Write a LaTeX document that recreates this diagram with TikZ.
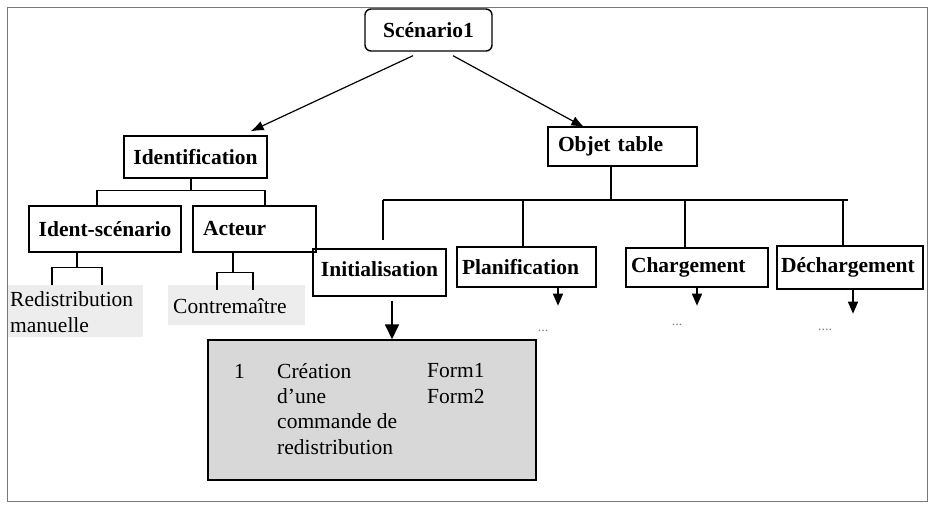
\documentclass[tikz,border=0pt]{standalone}
\usepackage{fontspec}
\setmainfont{Liberation Serif}
\usetikzlibrary{arrows.meta,calc}
\definecolor{formgray}{RGB}{216,216,216}
\definecolor{notegray}{RGB}{237,237,237}
\definecolor{framegray}{RGB}{120,120,120}
\begin{document}
\begin{tikzpicture}[x=1pt,y=-1pt,
  every node/.style={font=\fontsize{21.5}{25.3}\selectfont},
  box/.style={draw, line width=1.4pt, font=\fontsize{21.5}{25.3}\selectfont\bfseries, inner ysep=0pt},
  tree/.style={line width=1.4pt},
  bigarrow/.style={line width=1.2pt, -{Latex[length=13pt,width=10pt]}},
  downarrow/.style={line width=1.4pt, -{Triangle[length=12pt,width=10pt]}},
  initarrow/.style={line width=1.6pt, -{Triangle[length=15pt,width=14pt]}},
  dots/.style={font=\fontsize{14}{15}\selectfont, text=gray}]

\useasboundingbox (0,0) rectangle (931,508);
\draw[framegray, line width=0.8pt] (7,7) rectangle (927,501);

% light backgrounds behind the leaf labels
\fill[notegray] (8,285) rectangle (143,337);
\fill[notegray] (168,285) rectangle (305,325);

% boxes
\node[box, rounded corners=6pt, minimum width=127pt, minimum height=42pt] (scen) at (428.5,30) {Scénario1};
\node[box, minimum width=143pt, minimum height=42pt] (ident) at (195.5,157) {Identification};
\node[box, text width=129pt, inner xsep=10pt, minimum height=39pt, align=left] (obj) at (622.5,146.5) {Objet table};
\node[box, minimum width=152pt, minimum height=46pt] (idsc) at (105,229) {Ident-scénario};
\node[box, text width=103pt, inner xsep=10pt, minimum height=46pt, align=left] (act) at (254.5,229) {Acteur};
\node[box, minimum width=133pt, minimum height=47pt, text depth=6pt] (init) at (379.5,272.5) {Initialisation};
\node[box, text width=129pt, inner xsep=5pt, minimum height=40pt, align=left] (plan) at (526.5,267) {Planification};
\node[box, text width=132pt, inner xsep=5pt, minimum height=39pt, align=left] (charg) at (697,267.5) {Chargement};
\node[box, text width=138pt, inner xsep=4pt, minimum height=43pt, align=left] (dech) at (850,267.5) {Déchargement};

% leaf labels (base anchor sits on the last line)
\node[anchor=base west, align=left, inner sep=0pt] (redist) at (10,332) {Redistribution\\manuelle};
\node[anchor=base west, inner sep=0pt] (contre) at (173,313) {Contremaître};

% form box
\node[draw, line width=1.4pt, fill=formgray, minimum width=328pt, minimum height=140pt, inner sep=0pt] (form) at (372,410) {};
\node[anchor=base west, inner sep=0pt] (num) at (234,378) {1};
\node[anchor=base west, align=left, inner sep=0pt] (desc) at (277,454) {Création\\d'une\\commande de\\redistribution};
\node[anchor=base west, align=left, inner sep=0pt] (frm) at (427,403) {Form1\\Form2};

% continuation marks
\node[dots] (pdots) at (543,331) {...};
\node[dots] (cdots) at (677,325) {...};
\node[dots] (ddots) at (825,330) {....};

% top-level arrows
\draw[bigarrow] ($(scen.south)+(-15.5,4)$) -- ($(ident.north east)+(-17,-4)$);
\draw[bigarrow] ($(scen.south)+(24.5,4)$) -- ($(obj.north west)+(37,1)$);

% Identification subtree
\draw[tree] ($(ident.south)+(-4.5,0)$) -- ++(0,12) coordinate (jid);
\coordinate (il) at ($(idsc.north)+(-8,0)$);
\coordinate (ir) at ($(act.north)+(10.5,0)$);
\draw[tree] (il) |- (jid) -| (ir);

% leaf brackets
\draw[tree] ($(idsc.south)+(-28,0)$) -- ++(0,15) coordinate (jr);
\coordinate (rl) at (52,285);
\coordinate (rr) at (102,285);
\draw[tree] (rl) |- (jr) -| (rr);

\draw[tree] ($(act.south)+(-21.5,0)$) -- ++(0,20) coordinate (ja);
\coordinate (al) at (217,290);
\coordinate (ar) at (253,290);
\draw[tree] (al) |- (ja) -| (ar);

% Objet table subtree
\draw[tree] ($(obj.south)+(-11.5,0)$) -- ++(0,34) coordinate (jo);
\coordinate (ol) at (383,200);
\coordinate (or) at (848,200);
\draw[tree] (ol) -- (or);
\draw[tree] (ol) -- ++(0,40);
\coordinate (pt) at ($(plan.north)+(-3.5,0)$);
\coordinate (ct) at ($(charg.north)+(-12,0)$);
\coordinate (dt) at ($(dech.north)+(-7,0)$);
\draw[tree] (pt) -- (pt |- ol);
\draw[tree] (ct) -- (ct |- ol);
\draw[tree] (dt) -- (dt |- ol);

% downward arrows
\coordinate (ia) at ($(init.south)+(12.5,4)$);
\draw[initarrow] (ia) -- (ia |- form.north);
\draw[downarrow] ($(plan.south)+(31.5,0)$) -- ++(0,18);
\draw[downarrow] (charg.south) -- ++(0,18);
\draw[downarrow] ($(dech.south)+(3,0)$) -- ++(0,24);
\end{tikzpicture}
\end{document}
